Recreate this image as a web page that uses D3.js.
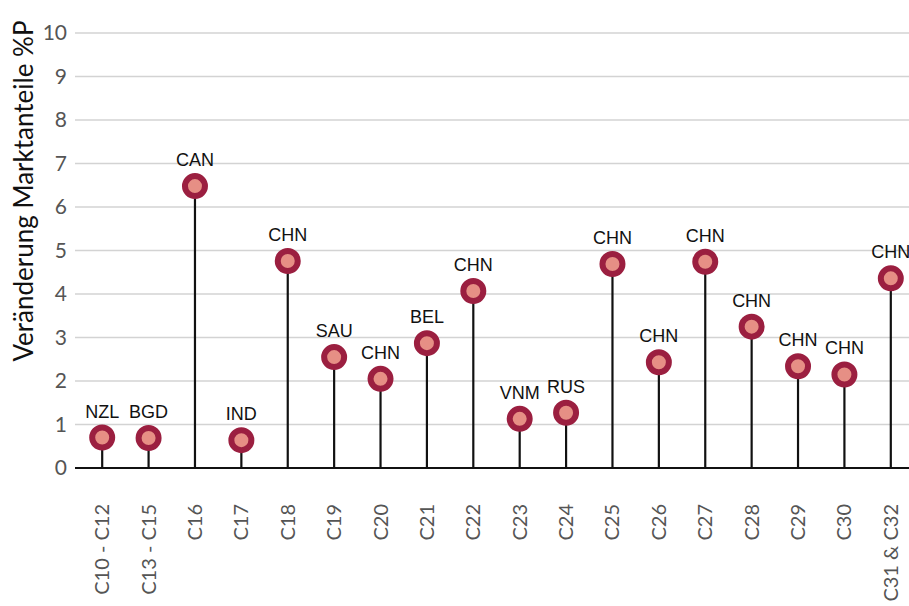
<!DOCTYPE html>
<html>
<head>
<meta charset="utf-8">
<script src="https://cdn.jsdelivr.net/npm/d3@7"></script>
<style>
  body { margin: 0; background: #fff; }
  svg { display: block; }
</style>
</head>
<body>
<div id="chart"></div>
<script>
// categories, country labels and values
const categories = ['C10 - C12', 'C13 - C15', 'C16', 'C17', 'C18', 'C19', 'C20', 'C21', 'C22',
                    'C23', 'C24', 'C25', 'C26', 'C27', 'C28', 'C29', 'C30', 'C31 & C32'];
const countries = ['NZL', 'BGD', 'CAN', 'IND', 'CHN', 'SAU', 'CHN', 'BEL', 'CHN',
                   'VNM', 'RUS', 'CHN', 'CHN', 'CHN', 'CHN', 'CHN', 'CHN', 'CHN'];
const values = [0.70, 0.69, 6.48, 0.64, 4.76, 2.55, 2.05, 2.87, 4.07,
                1.13, 1.27, 4.69, 2.43, 4.74, 3.25, 2.34, 2.15, 4.36];
const yTicks = [0, 1, 2, 3, 4, 5, 6, 7, 8, 9, 10];

let width = 909;
let height = 606;

let svg = d3.select('#chart').append('svg')
  .attr('width', width).attr('height', height);

let x = d3.scaleBand().domain(categories).range([79, 914]);
let y = d3.scaleLinear().domain([0, 10]).range([468, 33]);

/// gridlines
svg.append('g').selectAll('line')
  .data(yTicks.filter(function(d) { return d > 0; }))
  .enter().append('line')
  .attr('x1', 75).attr('x2', width)
  .attr('y1', function(d) { return y(d); })
  .attr('y2', function(d) { return y(d); })
  .attr('stroke', '#d3d3d3')
  .attr('stroke-width', 1.6);

/// y axis labels
let yAxis = svg.append('g')
  .attr('transform', 'translate(75,0)')
  .call(d3.axisLeft(y).tickValues(yTicks).tickSize(0).tickPadding(8));
yAxis.select('.domain').remove();
yAxis.selectAll('text')
  .attr('font-family', 'Lato, sans-serif')
  .attr('font-size', 21)
  .attr('fill', '#555');

svg.append('text')
  .attr('transform', 'translate(33,191) rotate(-90)')
  .attr('text-anchor', 'middle')
  .attr('font-family', 'Lato, sans-serif')
  .attr('font-size', 26)
  .attr('fill', '#111')
  .text('Veränderung Marktanteile %P');

/// x axis labels
let xAxis = svg.append('g')
  .attr('transform', 'translate(0,468)')
  .call(d3.axisBottom(x).tickSize(0).tickPadding(0));
xAxis.select('.domain').remove();
xAxis.selectAll('text')
  .attr('font-family', 'Lato, sans-serif')
  .attr('font-size', 20)
  .attr('fill', '#555')
  .attr('text-anchor', 'end')
  .attr('dy', '0.35em')
  .attr('transform', 'translate(0,36) rotate(-90)');

let data = categories.map(function(c, i) {
  return { cat: c, country: countries[i], value: values[i] };
});

let cx = function(d) { return x(d.cat) + x.bandwidth() / 2; };

/// stems
svg.append('g').selectAll('line')
  .data(data)
  .enter().append('line')
  .attr('x1', cx).attr('x2', cx)
  .attr('y1', y(0))
  .attr('y2', function(d) { return y(d.value); })
  .attr('stroke', '#111')
  .attr('stroke-width', 2.2);

/// baseline
svg.append('line')
  .attr('x1', 75).attr('x2', width)
  .attr('y1', y(0)).attr('y2', y(0))
  .attr('stroke', '#111')
  .attr('stroke-width', 2.2);

/// lollipop heads
svg.append('g').selectAll('circle')
  .data(data)
  .enter().append('circle')
  .attr('cx', cx)
  .attr('cy', function(d) { return y(d.value); })
  .attr('r', 10)
  .attr('fill', '#e68f85')
  .attr('stroke', '#9b1f40')
  .attr('stroke-width', 6);

/// country labels
svg.append('g').selectAll('text')
  .data(data)
  .enter().append('text')
  .attr('x', cx)
  .attr('y', function(d) { return y(d.value) - 20; })
  .attr('text-anchor', 'middle')
  .attr('font-family', 'Liberation Sans, Arial, sans-serif')
  .attr('font-size', 18)
  .attr('fill', '#111')
  .text(function(d) { return d.country; });
</script>
</body>
</html>
